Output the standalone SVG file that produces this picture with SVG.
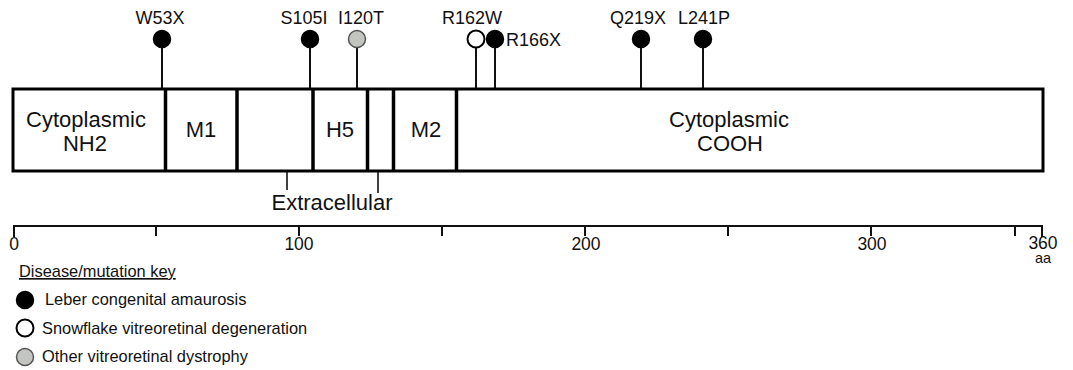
<svg xmlns="http://www.w3.org/2000/svg" width="1073" height="370" viewBox="0 0 1073 370">
<style>
text{font-family:"Liberation Sans",Arial,sans-serif;fill:#111}
.lbl{font-size:18px;text-anchor:middle}
.dom{font-size:22px;text-anchor:middle}
.ax{font-size:17.5px;text-anchor:middle}
.leg{font-size:16.4px}
.stem{stroke:#111;stroke-width:2;fill:none}
.thin{stroke:#111;stroke-width:1.6;fill:none}
.lca{fill:#000;stroke:#000;stroke-width:1.5}
.svd{fill:#fff;stroke:#000;stroke-width:2}
.ovd{fill:#c3c5c0;stroke:#555;stroke-width:1.5}
.div{stroke:#000;stroke-width:3.5}
</style>
<rect width="1073" height="370" fill="#fff"/>
<g id="connectors">
<line class="stem" x1="162" y1="47" x2="162" y2="89"/>
<line class="stem" x1="310" y1="47" x2="310" y2="89"/>
<line class="stem" x1="357" y1="47" x2="357" y2="89"/>
<line class="stem" x1="476" y1="47" x2="476" y2="89"/>
<line class="stem" x1="495" y1="47" x2="495" y2="89"/>
<line class="stem" x1="641" y1="47" x2="641" y2="89"/>
<line class="stem" x1="703" y1="47" x2="703" y2="89"/>
<line class="thin" x1="287" y1="171" x2="287" y2="190"/>
<line class="thin" x1="378" y1="171" x2="378" y2="193"/>
</g>
<g id="protein">
<rect x="13" y="89" width="1030" height="82" fill="#fff" stroke="#000" stroke-width="3"/>
<line class="div" x1="165.5" y1="89" x2="165.5" y2="171"/>
<line class="div" x1="237" y1="89" x2="237" y2="171"/>
<line class="div" x1="313" y1="89" x2="313" y2="171"/>
<line class="div" x1="367.5" y1="89" x2="367.5" y2="171"/>
<line class="div" x1="393.5" y1="89" x2="393.5" y2="171"/>
<line class="div" x1="456.5" y1="89" x2="456.5" y2="171"/>
</g>
<g id="dom-nh2"><text class="dom" x="86" y="127">Cytoplasmic</text><text class="dom" x="85" y="151">NH2</text></g>
<g id="dom-m1"><text class="dom" x="201" y="137">M1</text></g>
<g id="dom-h5"><text class="dom" x="340" y="137">H5</text></g>
<g id="dom-m2"><text class="dom" x="426" y="137">M2</text></g>
<g id="dom-cooh"><text class="dom" x="729" y="127">Cytoplasmic</text><text class="dom" x="730" y="151">COOH</text></g>
<g id="extracellular"><text class="dom" x="332" y="210">Extracellular</text></g>
<g id="mut-w53x"><circle class="lca" cx="162" cy="39" r="8.5"/><text class="lbl" x="160" y="24">W53X</text></g>
<g id="mut-s105i"><circle class="lca" cx="310" cy="39" r="8.5"/><text class="lbl" x="304" y="24">S105I</text></g>
<g id="mut-i120t"><circle class="ovd" cx="357" cy="39" r="8.5"/><text class="lbl" x="361" y="24">I120T</text></g>
<g id="mut-r162w"><circle class="svd" cx="476" cy="39" r="8.5"/><text class="lbl" x="472" y="24">R162W</text></g>
<g id="mut-r166x"><circle class="lca" cx="495" cy="39" r="8.5"/><text class="lbl" x="506" y="46" style="text-anchor:start">R166X</text></g>
<g id="mut-q219x"><circle class="lca" cx="641" cy="39" r="8.5"/><text class="lbl" x="638" y="24">Q219X</text></g>
<g id="mut-l241p"><circle class="lca" cx="703" cy="39" r="8.5"/><text class="lbl" x="704" y="24">L241P</text></g>
<g id="axis">
<line x1="13" y1="226" x2="1043" y2="226" stroke="#111" stroke-width="2"/>
<g stroke="#111" stroke-width="2">
<line x1="14" y1="225" x2="14" y2="237"/>
<line x1="156" y1="225" x2="156" y2="236"/>
<line x1="299" y1="225" x2="299" y2="236"/>
<line x1="442" y1="225" x2="442" y2="236"/>
<line x1="585" y1="225" x2="585" y2="236"/>
<line x1="728" y1="225" x2="728" y2="236"/>
<line x1="871" y1="225" x2="871" y2="236"/>
<line x1="1015" y1="225" x2="1015" y2="236"/>
<line x1="1042" y1="225" x2="1042" y2="237"/>
</g>
<text class="ax" x="14" y="250">0</text>
<text class="ax" x="299" y="250">100</text>
<text class="ax" x="586" y="250">200</text>
<text class="ax" x="872" y="250">300</text>
<text class="ax" x="1043" y="249">360</text>
<text class="ax" x="1043" y="263" style="font-size:14.5px">aa</text>
</g>
<g id="legend">
<text class="leg" x="19" y="277" text-decoration="underline">Disease/mutation key</text>
<circle class="lca" cx="25" cy="300" r="8.5"/>
<text class="leg" x="45" y="305">Leber congenital amaurosis</text>
<circle class="svd" cx="25" cy="328" r="8.5"/>
<text class="leg" x="42" y="334">Snowflake vitreoretinal degeneration</text>
<circle class="ovd" cx="25" cy="357" r="8.5"/>
<text class="leg" x="42" y="362">Other vitreoretinal dystrophy</text>
</g>
</svg>
